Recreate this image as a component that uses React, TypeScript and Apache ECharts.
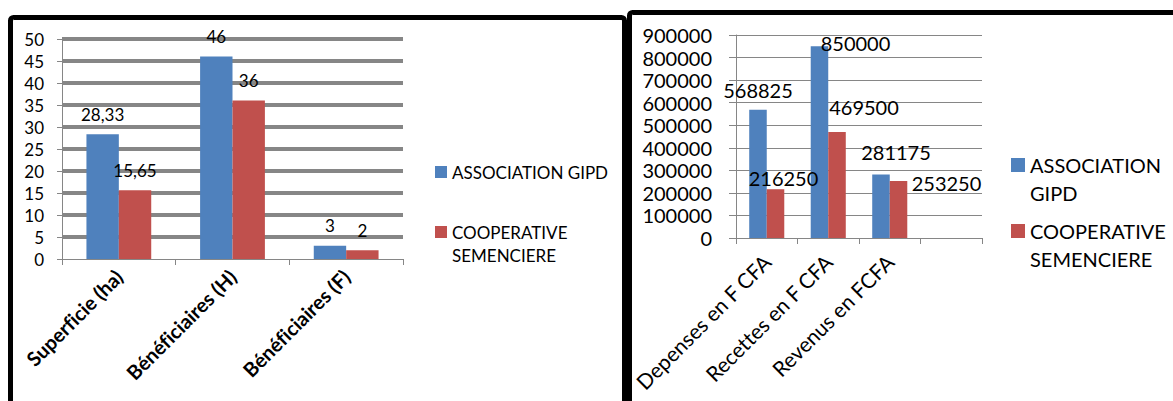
import React, { useEffect, useRef } from "react";
import * as echarts from "echarts";

// ---- Data (left panel) ----
const leftCategories = ["Superficie (ha)", "Bénéficiaires (H)", "Bénéficiaires (F)"];
const leftGipd = [28.33, 46, 3];
const leftCoop = [15.65, 36, 2];
const leftAxisMin = 0;
const leftAxisMax = 50;
const leftAxisStep = 5;

// ---- Data (right panel) ----
const rightCategories = ["Depenses en F CFA", "Recettes en F CFA", "Revenus en FCFA", ""];
const rightGipd = [568825, 850000, 281175];
const rightCoop = [216250, 469500, 253250];
const rightAxisMin = 0;
const rightAxisMax = 900000;
const rightAxisStep = 100000;

const seriesNames = ["ASSOCIATION GIPD", "COOPERATIVE SEMENCIERE"];

// label nudges (styling only) for the right panel, as in the original figure
const rightGipdLabelOffsets = [[0, 0], [36, 17], [15, -3]];
const rightCoopLabelOffsets = [[8, 9], [27, -5], [48, 22]];

const BLUE = "#4F81BD";
const RED = "#C0504D";
const GRID_GRAY = "#868686";
const FONT = "Lato, 'Open Sans', sans-serif";

export default function App() {
  const ref = useRef<HTMLDivElement>(null);

  useEffect(() => {
    if (!ref.current) return;
    const chart = echarts.init(ref.current, null, { renderer: "svg" });

    const commaFmt = (p: any) => String(p.value).replace(".", ",");

    const option: any = {
      animation: false,
      backgroundColor: "#ffffff",
      textStyle: { fontFamily: FONT },
      graphic: [
        {
          type: "rect",
          shape: { x: 10.5, y: 17.5, width: 614, height: 500, r: 3 },
          style: { fill: null, stroke: "#000", lineWidth: 5 },
          z: 100,
        },
        {
          type: "rect",
          shape: { x: 629.5, y: 12.5, width: 600, height: 500, r: 3 },
          style: { fill: null, stroke: "#000", lineWidth: 5 },
          z: 100,
        },
      ],
      grid: [
        { left: 62, top: 39, width: 341, height: 220, containLabel: false },
        { left: 736, top: 35, width: 246, height: 203, containLabel: false },
      ],
      xAxis: [
        {
          type: "category",
          gridIndex: 0,
          data: leftCategories,
          axisLine: { lineStyle: { color: GRID_GRAY, width: 1 } },
          axisTick: { show: true, length: 6, lineStyle: { color: GRID_GRAY } },
          axisLabel: {
            interval: 0,
            rotate: 45,
            margin: 14,
            fontFamily: FONT,
            fontWeight: "bold",
            fontSize: 20,
            color: "#000",
          },
        },
        {
          type: "category",
          gridIndex: 1,
          data: rightCategories,
          axisLine: { lineStyle: { color: GRID_GRAY, width: 1 } },
          axisTick: { show: true, length: 6, lineStyle: { color: GRID_GRAY } },
          axisLabel: {
            interval: 0,
            rotate: 45,
            margin: 20,
            fontFamily: FONT,
            fontSize: 21,
            color: "#000",
          },
        },
      ],
      yAxis: [
        {
          type: "value",
          gridIndex: 0,
          min: leftAxisMin,
          max: leftAxisMax,
          interval: leftAxisStep,
          axisLine: { show: true, lineStyle: { color: GRID_GRAY, width: 1 } },
          axisTick: { show: true, length: 5, lineStyle: { color: GRID_GRAY } },
          splitLine: { show: true, showMinLine: false, lineStyle: { color: GRID_GRAY, width: 4 } },
          axisLabel: { margin: 18, fontFamily: FONT, fontSize: 17, color: "#000" },
        },
        {
          type: "value",
          gridIndex: 1,
          min: rightAxisMin,
          max: rightAxisMax,
          interval: rightAxisStep,
          axisLine: { show: true, lineStyle: { color: GRID_GRAY, width: 1 } },
          axisTick: { show: true, length: 7, lineStyle: { color: GRID_GRAY } },
          splitLine: { show: true, lineStyle: { color: GRID_GRAY, width: 1 } },
          axisLabel: {
            margin: 24,
            fontFamily: FONT,
            fontSize: 20,
            color: "#000",
            formatter: (v: number) => String(v),
          },
        },
      ],
      legend: [
        {
          data: [seriesNames[0]],
          left: 435,
          top: 160.5,
          padding: 0,
          itemWidth: 12,
          itemHeight: 12,
          icon: "rect",
          formatter: () => "ASSOCIATION GIPD",
          textStyle: { fontFamily: FONT, fontSize: 17, lineHeight: 23, color: "#000" },
        },
        {
          data: [seriesNames[1]],
          left: 435,
          top: 197.5,
          padding: 0,
          itemWidth: 12,
          itemHeight: 12,
          icon: "rect",
          formatter: () => "\nCOOPERATIVE\nSEMENCIERE",
          textStyle: { fontFamily: FONT, fontSize: 17, lineHeight: 23, color: "#000" },
        },
        {
          data: [seriesNames[0]],
          left: 1011,
          top: 123,
          padding: 0,
          itemWidth: 14,
          itemHeight: 14,
          icon: "rect",
          formatter: () => "\nASSOCIATION\nGIPD",
          textStyle: { fontFamily: FONT, fontSize: 20, lineHeight: 28, color: "#000" },
        },
        {
          data: [seriesNames[1]],
          left: 1011,
          top: 189,
          padding: 0,
          itemWidth: 14,
          itemHeight: 14,
          icon: "rect",
          formatter: () => "\nCOOPERATIVE\nSEMENCIERE",
          textStyle: { fontFamily: FONT, fontSize: 20, lineHeight: 28, color: "#000" },
        },
      ],
      series: [
        {
          type: "bar",
          name: seriesNames[0],
          xAxisIndex: 0,
          yAxisIndex: 0,
          data: leftGipd,
          itemStyle: { color: BLUE },
          barGap: "0%",
          barCategoryGap: "43%",
          label: {
            show: true,
            position: "top",
            distance: 10,
            formatter: commaFmt,
            fontFamily: FONT,
            fontSize: 17,
            lineHeight: 20,
            color: "#000",
          },
        },
        {
          type: "bar",
          name: seriesNames[1],
          xAxisIndex: 0,
          yAxisIndex: 0,
          data: leftCoop,
          itemStyle: { color: RED },
          barGap: "0%",
          barCategoryGap: "43%",
          label: {
            show: true,
            position: "top",
            distance: 10,
            formatter: commaFmt,
            fontFamily: FONT,
            fontSize: 17,
            lineHeight: 20,
            color: "#000",
          },
        },
        {
          type: "bar",
          name: seriesNames[0],
          xAxisIndex: 1,
          yAxisIndex: 1,
          data: rightGipd.map((v, i) => ({ value: v, label: { offset: rightGipdLabelOffsets[i] } })),
          itemStyle: { color: BLUE },
          barGap: "0%",
          barCategoryGap: "43%",
          label: {
            show: true,
            position: "top",
            distance: 8,
            fontFamily: FONT,
            fontSize: 20,
            lineHeight: 24,
            color: "#000",
          },
        },
        {
          type: "bar",
          name: seriesNames[1],
          xAxisIndex: 1,
          yAxisIndex: 1,
          data: rightCoop.map((v, i) => ({ value: v, label: { offset: rightCoopLabelOffsets[i] } })),
          itemStyle: { color: RED },
          barGap: "0%",
          barCategoryGap: "43%",
          label: {
            show: true,
            position: "top",
            distance: 8,
            fontFamily: FONT,
            fontSize: 20,
            lineHeight: 24,
            color: "#000",
          },
        },
      ],
    };

    chart.setOption(option);
    return () => chart.dispose();
  }, []);

  return (
    <>
      <style>{"svg text{font-variant-ligatures:none;font-feature-settings:'liga' 0,'clig' 0;}"}</style>
      <div
        ref={ref}
        style={{ position: "fixed", left: 0, top: 0, width: 1173, height: 401, background: "#fff" }}
      />
    </>
  );
}
